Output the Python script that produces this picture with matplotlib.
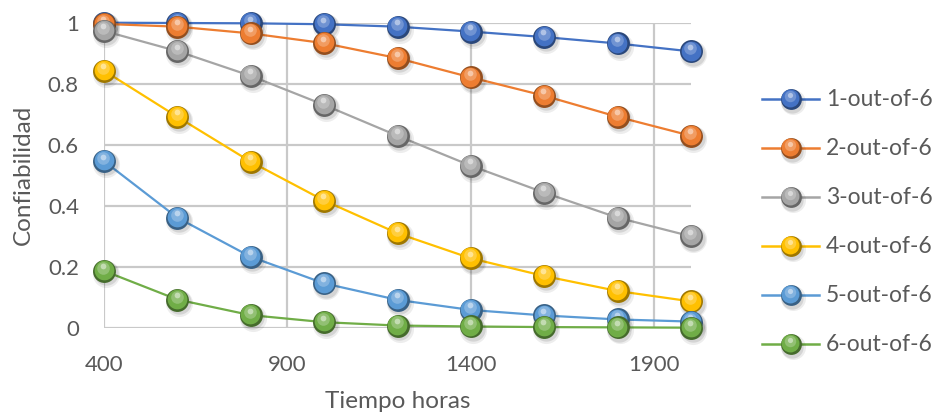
import matplotlib
matplotlib.use('Agg')
import matplotlib.pyplot as plt
from matplotlib.transforms import offset_copy
from matplotlib.colors import to_rgb
import numpy as np

plt.rcParams['font.family'] = ['Lato', 'DejaVu Sans']

# operating time (hours) and system reliability for each k-out-of-6 configuration
hours = [400, 600, 800, 1000, 1200, 1400, 1600, 1800, 2000]
rel_1of6 = [1.0, 0.999, 0.998, 0.995, 0.987, 0.971, 0.953, 0.932, 0.906]
rel_2of6 = [0.996, 0.987, 0.965, 0.933, 0.884, 0.821, 0.761, 0.692, 0.630]
rel_3of6 = [0.973, 0.907, 0.826, 0.731, 0.630, 0.532, 0.444, 0.362, 0.301]
rel_4of6 = [0.843, 0.692, 0.545, 0.418, 0.311, 0.229, 0.171, 0.122, 0.088]
rel_5of6 = [0.547, 0.362, 0.234, 0.147, 0.093, 0.060, 0.042, 0.029, 0.022]
rel_6of6 = [0.188, 0.094, 0.043, 0.020, 0.009, 0.006, 0.004, 0.003, 0.002]

labels = ['1-out-of-6', '2-out-of-6', '3-out-of-6', '4-out-of-6', '5-out-of-6', '6-out-of-6']
colors = ['#4472C4', '#ED7D31', '#A5A5A5', '#FFC000', '#5B9BD5', '#70AD47']
series = [rel_1of6, rel_2of6, rel_3of6, rel_4of6, rel_5of6, rel_6of6]

TEXT = '#595959'
GRID = '#C9C9C9'
W, H = 937, 416


def sphere(ax, x, y, color, size, z):
    """Shaded ball markers: shadow, dark rim, body, glow and highlight."""
    rgb = np.array(to_rgb(color))
    dark = rgb * 0.62
    light = rgb + (1 - rgb) * 0.4
    fig = ax.figure

    def off(dx, dy):
        return offset_copy(ax.transData, fig=fig, x=dx, y=dy, units='points')

    kw = dict(ls='none', marker='o', mec='none', clip_on=False)
    ax.plot(x, y, ms=size + 3, color='black', alpha=0.07, transform=off(1.5, -2.2), zorder=z, **kw)
    ax.plot(x, y, ms=size + 1, color='black', alpha=0.10, transform=off(1.2, -1.6), zorder=z, **kw)
    ax.plot(x, y, ms=size, color=dark, zorder=z + 0.1, **kw)
    ax.plot(x, y, ms=size * 0.86, color=rgb, transform=off(-0.3, 0.6), zorder=z + 0.2, **kw)
    ax.plot(x, y, ms=size * 0.55, color=light, alpha=0.6, transform=off(-0.5, 2.2), zorder=z + 0.3, **kw)
    ax.plot(x, y, ms=size * 0.25, color='white', alpha=0.45, transform=off(-0.6, 3.3), zorder=z + 0.4, **kw)


fig = plt.figure(figsize=(W / 100, H / 100), dpi=100)
x0, x1, y0, y1 = 104, 691, 22.7, 328.3
ax = fig.add_axes([x0 / W, 1 - y1 / H, (x1 - x0) / W, (y1 - y0) / H])

for i, (vals, col) in enumerate(zip(series, colors)):
    z = 3 + i
    ax.plot(hours, vals, color=col, lw=1.6, zorder=z, clip_on=False)
    sphere(ax, hours, vals, col, 16.5, z)

ax.set_xlim(400, 2000)
ax.set_ylim(0, 1)
ax.set_xticks([400, 900, 1400, 1900])
ax.set_yticks([0, 0.2, 0.4, 0.6, 0.8, 1.0])
ax.set_yticklabels(['0', '0.2', '0.4', '0.6', '0.8', '1'])
ax.grid(True, color=GRID, lw=1.6, zorder=0)
ax.set_axisbelow(True)
for s in ax.spines.values():
    s.set_visible(False)
ax.tick_params(length=0, labelsize=16, labelcolor=TEXT)
ax.tick_params(axis='y', pad=18)
ax.tick_params(axis='x', pad=19)

fig.text(398 / W, 1 - 401 / H, 'Tiempo horas', ha='center', va='center', fontsize=17.5, color=TEXT)
fig.text(23 / W, 1 - 175 / H, 'Confiabilidad', ha='center', va='center', rotation=90,
         fontsize=17.5, color=TEXT)

# legend, drawn in pixel coordinates on an overlay
lg = fig.add_axes([0, 0, 1, 1])
lg.set_xlim(0, W)
lg.set_ylim(H, 0)
lg.axis('off')
for i, (lab, col) in enumerate(zip(labels, colors)):
    yy = 99.3 + i * 49
    lg.plot([762, 819], [yy, yy], color=col, lw=1.8, zorder=2)
    sphere(lg, [790.7], [yy], col, 15, 3)
    lg.text(826, yy, lab, ha='left', va='center', fontsize=16.5, color=TEXT)

fig.savefig('out.png', dpi=100)
